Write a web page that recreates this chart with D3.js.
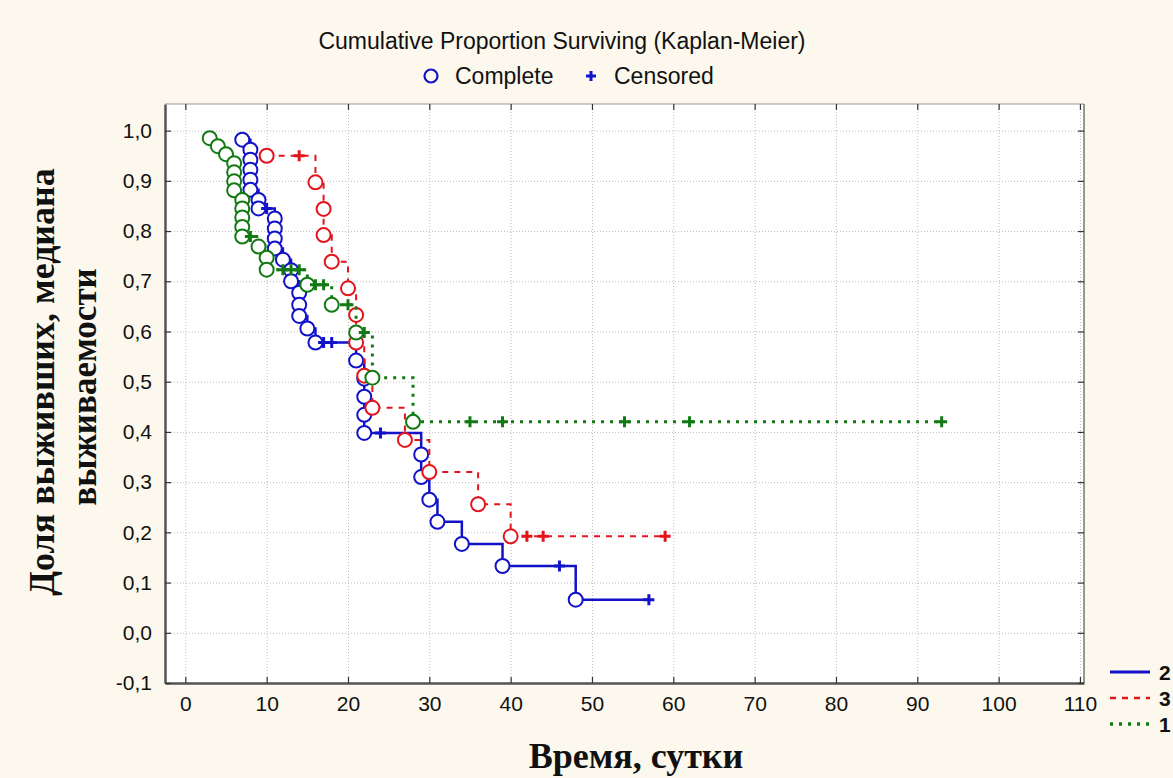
<!DOCTYPE html>
<html>
<head>
<meta charset="utf-8">
<script src="https://cdn.jsdelivr.net/npm/d3@7"></script>
<style>
  body { margin: 0; background: #fcf8ed; }
  svg { display: block; }
</style>
</head>
<body>
<div id="chart"></div>
<script>
// [time, survival, censored]
const group2 = [
  [7, 0.982, 0], [8, 0.962, 0], [8, 0.942, 0], [8, 0.922, 0], [8, 0.902, 0], [8, 0.882, 0],
  [9, 0.862, 0], [9, 0.845, 0], [10, 0.845, 1], [11, 0.825, 0], [11, 0.805, 0], [11, 0.785, 0],
  [11, 0.765, 0], [12, 0.743, 0], [13, 0.722, 0], [13, 0.700, 0], [14, 0.677, 0], [14, 0.653, 0],
  [14, 0.631, 0], [15, 0.606, 0], [16, 0.578, 0], [17, 0.578, 1], [18, 0.578, 1], [21, 0.542, 0],
  [22, 0.506, 0], [22, 0.470, 0], [22, 0.434, 0], [22, 0.398, 0], [24, 0.398, 1], [29, 0.355, 0],
  [29, 0.310, 0], [30, 0.265, 0], [31, 0.221, 0], [34, 0.177, 0], [39, 0.133, 0], [46, 0.133, 1],
  [48, 0.066, 0], [57, 0.066, 1]
];
const group3 = [
  [10, 0.950, 0], [14, 0.950, 1], [16, 0.897, 0], [17, 0.844, 0], [17, 0.792, 0], [18, 0.739, 0],
  [20, 0.686, 0], [21, 0.633, 0], [21, 0.578, 0], [22, 0.512, 0], [23, 0.448, 0], [27, 0.384, 0],
  [30, 0.320, 0], [36, 0.256, 0], [40, 0.192, 0], [42, 0.192, 1], [44, 0.192, 1], [59, 0.192, 1]
];
const group1 = [
  [3, 0.985, 0], [4, 0.969, 0], [5, 0.953, 0], [6, 0.935, 0], [6, 0.917, 0], [6, 0.899, 0],
  [6, 0.881, 0], [7, 0.862, 0], [7, 0.845, 0], [7, 0.827, 0], [7, 0.808, 0], [7, 0.789, 0],
  [8, 0.789, 1], [9, 0.769, 0], [10, 0.747, 0], [10, 0.723, 0], [12, 0.723, 1], [13, 0.723, 1],
  [14, 0.723, 1], [15, 0.693, 0], [16, 0.693, 1], [17, 0.693, 1], [18, 0.653, 0], [20, 0.653, 1],
  [21, 0.598, 0], [22, 0.598, 1], [23, 0.508, 0], [28, 0.420, 0], [35, 0.420, 1], [39, 0.420, 1],
  [54, 0.420, 1], [62, 0.420, 1], [93, 0.420, 1]
];

const xTicks = [0, 10, 20, 30, 40, 50, 60, 70, 80, 90, 100, 110];
const yTicks = [-0.1, 0, 0.1, 0.2, 0.3, 0.4, 0.5, 0.6, 0.7, 0.8, 0.9, 1.0];
const groupNames = ["2", "3", "1"];

const chartTitle = "Cumulative Proportion Surviving (Kaplan-Meier)";
const xTitle = "Время, сутки";
const yTitle1 = "Доля выживших, медиана";
const yTitle2 = "выживаемости";

// Set up the chart dimensions
const width = 1173, height = 778;
const plot = { left: 165, top: 104, right: 1084, bottom: 683 };

const x = d3.scaleLinear().domain([-2.5, 110.5]).range([plot.left, plot.right]);
const y = d3.scaleLinear().domain([-0.1, 1.053]).range([plot.bottom, plot.top]);

const fmt = v => v.toFixed(1).replace(".", ",");

const svg = d3.select("#chart").append("svg")
    .attr("width", width)
    .attr("height", height)
    .style("font-family", "Arial, 'Liberation Sans', sans-serif");

svg.append("rect")
    .attr("width", width).attr("height", height)
    .attr("fill", "#fcf8ed");

svg.append("rect")
    .attr("x", plot.left).attr("y", plot.top)
    .attr("width", plot.right - plot.left).attr("height", plot.bottom - plot.top)
    .attr("fill", "#fff");

// Dotted grid
svg.append("g")
    .attr("transform", `translate(0,${plot.bottom})`)
    .call(d3.axisBottom(x).tickValues(xTicks).tickSize(-(plot.bottom - plot.top)).tickFormat(""))
    .call(g => g.select(".domain").remove())
    .call(g => g.selectAll("line").attr("stroke", "#bdbdbd").attr("stroke-dasharray", "1,2"));
svg.append("g")
    .attr("transform", `translate(${plot.left},0)`)
    .call(d3.axisLeft(y).tickValues(yTicks.slice(1)).tickSize(-(plot.right - plot.left)).tickFormat(""))
    .call(g => g.select(".domain").remove())
    .call(g => g.selectAll("line").attr("stroke", "#bdbdbd").attr("stroke-dasharray", "1,2"));

// Frame
svg.append("line").attr("x1", plot.left).attr("x2", plot.right).attr("y1", plot.top).attr("y2", plot.top)
    .attr("stroke", "#999").attr("stroke-width", 1);
svg.append("line").attr("x1", plot.right).attr("x2", plot.right).attr("y1", plot.top).attr("y2", plot.bottom)
    .attr("stroke", "#333").attr("stroke-width", 1);

// Axes with inward ticks
const xAxis = svg.append("g")
    .attr("transform", `translate(0,${plot.bottom})`)
    .call(d3.axisBottom(x).tickValues(xTicks).tickSizeInner(-6).tickSizeOuter(0).tickPadding(13).tickFormat(d3.format("d")));
const yAxis = svg.append("g")
    .attr("transform", `translate(${plot.left},0)`)
    .call(d3.axisLeft(y).tickValues(yTicks).tickSizeInner(-6).tickSizeOuter(0).tickPadding(13).tickFormat(fmt));
svg.append("g")
    .attr("transform", `translate(0,${plot.top})`)
    .call(d3.axisTop(x).tickValues(xTicks).tickSizeInner(-6).tickSizeOuter(0).tickFormat(""))
    .call(g => g.select(".domain").remove());
svg.append("g")
    .attr("transform", `translate(${plot.right},0)`)
    .call(d3.axisRight(y).tickValues(yTicks).tickSizeInner(-6).tickSizeOuter(0).tickFormat(""))
    .call(g => g.select(".domain").remove());

[xAxis, yAxis].forEach(a => {
  a.select(".domain").attr("stroke", "#555").attr("stroke-width", 2.5);
  a.selectAll("text").attr("font-size", 21).attr("fill", "#111")
      .style("font-family", "Arial, 'Liberation Sans', sans-serif");
});
svg.selectAll(".tick line").filter(function() { return !this.getAttribute("stroke-dasharray"); })
    .attr("stroke", "#333").attr("stroke-width", 1.2);

// Curves
const series = [
  { name: groupNames[0], data: group2, color: "#1212c8", dash: null, width: 2.5 },
  { name: groupNames[1], data: group3, color: "#e3151c", dash: "6,6", width: 2 },
  { name: groupNames[2], data: group1, color: "#137a13", dash: "3,6", width: 3 }
];

const line = d3.line()
    .x(d => x(d[0]))
    .y(d => y(d[1]))
    .curve(d3.curveStepAfter);

series.forEach(s => {
  const g = svg.append("g");
  g.append("path")
      .datum(s.data)
      .attr("fill", "none")
      .attr("stroke", s.color)
      .attr("stroke-width", s.width)
      .attr("stroke-dasharray", s.dash)
      .attr("d", line);

  g.selectAll("circle")
      .data(s.data.filter(d => !d[2]))
      .join("circle")
      .attr("cx", d => x(d[0]))
      .attr("cy", d => y(d[1]))
      .attr("r", 7)
      .attr("fill", "#fff")
      .attr("stroke", s.color)
      .attr("stroke-width", 2);

  g.selectAll("path.cens")
      .data(s.data.filter(d => d[2]))
      .join("path")
      .attr("class", "cens")
      .attr("transform", d => `translate(${x(d[0])},${y(d[1])})`)
      .attr("d", "M-5.5,0H5.5M0,-5.5V5.5")
      .attr("stroke", s.color)
      .attr("stroke-width", 3);
});

// Titles
svg.append("text")
    .attr("x", 562).attr("y", 49)
    .attr("text-anchor", "middle")
    .attr("font-size", 23).attr("fill", "#111")
    .text(chartTitle);

const leg = svg.append("g").attr("font-size", 23).attr("fill", "#111");
leg.append("circle").attr("cx", 431).attr("cy", 76).attr("r", 6.5)
    .attr("fill", "none").attr("stroke", "#1212c8").attr("stroke-width", 2.2);
leg.append("text").attr("x", 455).attr("y", 84).text("Complete");
leg.append("path").attr("transform", "translate(591,76)").attr("d", "M-5,0H5M0,-5V5")
    .attr("stroke", "#1212c8").attr("stroke-width", 3);
leg.append("text").attr("x", 614).attr("y", 84).text("Censored");

svg.append("text")
    .attr("x", 636).attr("y", 768)
    .attr("text-anchor", "middle")
    .attr("font-family", "'Times New Roman', 'Liberation Serif', serif")
    .attr("font-weight", "bold")
    .attr("font-size", 36).attr("fill", "#111")
    .text(xTitle);

[[yTitle1, 54, 382, 36], [yTitle2, 96, 387, 35]].forEach(([t, cx, cy, fs]) => {
  svg.append("text")
      .attr("transform", `translate(${cx},${cy}) rotate(-90)`)
      .attr("text-anchor", "middle")
      .attr("font-family", "'Times New Roman', 'Liberation Serif', serif")
      .attr("font-weight", "bold")
      .attr("font-size", fs).attr("fill", "#111")
      .text(t);
});

// Group legend
const gl = svg.append("g");
series.forEach((s, i) => {
  const ly = 672 + i * 26;
  gl.append("line")
      .attr("x1", 1110).attr("x2", 1150).attr("y1", ly).attr("y2", ly)
      .attr("stroke", s.color).attr("stroke-width", s.width + 0.5)
      .attr("stroke-dasharray", s.dash);
  gl.append("text")
      .attr("x", 1159).attr("y", ly + 8)
      .attr("font-size", 21).attr("font-weight", "bold").attr("fill", "#111")
      .text(s.name);
});
</script>
</body>
</html>
